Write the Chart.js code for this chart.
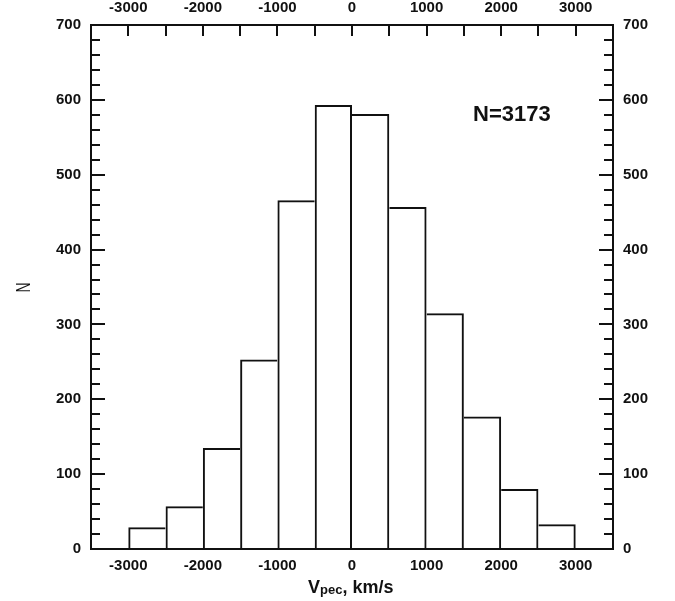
<!DOCTYPE html>
<html>
<head>
<meta charset="utf-8">
<script src="https://cdn.jsdelivr.net/npm/chart.js@4.4.1/dist/chart.umd.min.js"></script>
<style>
  html, body { margin: 0; padding: 0; background: #fff; }
  #wrap { width: 675px; height: 601px; }
</style>
</head>
<body>
<div id="wrap"><canvas id="hist" width="675" height="601"></canvas></div>
<script>
// histogram bins (left edge, km/s) and counts
const binLeft = [-3000, -2500, -2000, -1500, -1000, -500, 0, 500, 1000, 1500, 2000, 2500];
const binWidth = 500;
const counts = [29, 57, 135, 253, 466, 593, 581, 457, 315, 177, 80, 33];

const xLabels = [-3000, -2000, -1000, 0, 1000, 2000, 3000];
const xTickMarks = [-3000, -2500, -2000, -1500, -1000, -500, 0, 500, 1000, 1500, 2000, 2500, 3000];
const yLabels = [0, 100, 200, 300, 400, 500, 600, 700];
const yMinorStep = 20;
const totalText = 'N=3173';

const ink = '#111';
const tickFont = { family: 'Liberation Sans, Arial, sans-serif', size: 15, weight: 'bold' };

const points = binLeft.map((b, i) => ({ x: b + binWidth / 2, y: counts[i] }));
const last = counts.length - 1;

function fixTicks(list) {
  return function (scale) {
    scale.ticks = list.map(v => ({ value: v }));
  };
}
const plain = v => String(v);

// each shared bar edge is drawn once, by the taller of the two bars
function edgeWidths(c) {
  const i = c.dataIndex;
  return {
    top: 2,
    left: (i === 0 || counts[i] >= counts[i - 1]) ? 2 : 0,
    right: (i === last || counts[i] > counts[i + 1]) ? 2 : 0,
    bottom: 0
  };
}

// frame, inward ticks and titles
const framePlugin = {
  id: 'frame',
  afterDraw(chart) {
    const ctx = chart.ctx;
    const a = chart.chartArea;
    const x = chart.scales.x;
    const y = chart.scales.y;
    ctx.save();
    ctx.strokeStyle = ink;
    ctx.lineWidth = 2;
    ctx.strokeRect(a.left, a.top, a.right - a.left, a.bottom - a.top);

    ctx.beginPath();
    // top ticks
    xTickMarks.forEach(v => {
      const px = Math.round(x.getPixelForValue(v));
      ctx.moveTo(px, a.top);
      ctx.lineTo(px, a.top + 11);
    });
    // left / right ticks
    for (let v = 0; v <= 700; v += yMinorStep) {
      const py = Math.round(y.getPixelForValue(v));
      const len = v % 100 === 0 ? 14 : 9;
      ctx.moveTo(a.left, py);
      ctx.lineTo(a.left + len, py);
      ctx.moveTo(a.right, py);
      ctx.lineTo(a.right - len, py);
    }
    ctx.stroke();

    ctx.fillStyle = ink;
    // N=3173
    ctx.font = 'bold 22px "Liberation Sans", Arial, sans-serif';
    ctx.textBaseline = 'alphabetic';
    ctx.textAlign = 'left';
    ctx.fillText(totalText, 473, 121);

    // x title: V_pec, km/s
    let tx = 308;
    ctx.font = 'bold 18px "Liberation Sans", Arial, sans-serif';
    ctx.fillText('V', tx, 593);
    tx += ctx.measureText('V').width;
    ctx.font = 'bold 13px "Liberation Sans", Arial, sans-serif';
    ctx.fillText('pec', tx, 594);
    tx += ctx.measureText('pec').width;
    ctx.font = 'bold 18px "Liberation Sans", Arial, sans-serif';
    ctx.fillText(', km/s', tx, 593);

    // y title
    ctx.translate(22.5, 287.5);
    ctx.rotate(-Math.PI / 2);
    ctx.scale(1, 1.5);
    ctx.font = '14px "Liberation Sans", Arial, sans-serif';
    ctx.textAlign = 'center';
    ctx.fillText('N', 0, 5);
    ctx.restore();
  }
};

const noGrid = { display: false, drawTicks: false };

new Chart(document.getElementById('hist'), {
  type: 'bar',
  data: {
    datasets: [{
      data: points,
      xAxisID: 'x',
      yAxisID: 'y',
      backgroundColor: 'rgba(255,255,255,0)',
      borderColor: ink,
      borderSkipped: 'bottom',
      borderWidth: edgeWidths,
      inflateAmount: 0,
      barPercentage: 1,
      categoryPercentage: 1
    }]
  },
  options: {
    responsive: false,
    devicePixelRatio: 1,
    animation: false,
    layout: { padding: 0 },
    plugins: { legend: { display: false }, tooltip: { enabled: false } },
    scales: {
      x: {
        type: 'linear', position: 'bottom', min: -3500, max: 3500, offset: false,
        grid: noGrid, border: { display: false },
        afterBuildTicks: fixTicks(xLabels),
        afterFit: s => { s.height = 52; },
        ticks: { color: ink, font: tickFont, padding: 8, maxRotation: 0, autoSkip: false, callback: plain }
      },
      x2: {
        type: 'linear', position: 'top', min: -3500, max: 3500, offset: false,
        grid: noGrid, border: { display: false },
        afterBuildTicks: fixTicks(xLabels),
        afterFit: s => { s.height = 25; },
        ticks: { color: ink, font: tickFont, padding: 8, maxRotation: 0, autoSkip: false, callback: plain }
      },
      y: {
        type: 'linear', position: 'left', min: 0, max: 700,
        grid: noGrid, border: { display: false },
        afterBuildTicks: fixTicks(yLabels),
        afterFit: s => { s.width = 91; },
        ticks: { color: ink, font: tickFont, padding: 10, callback: plain }
      },
      y2: {
        type: 'linear', position: 'right', min: 0, max: 700,
        grid: noGrid, border: { display: false },
        afterBuildTicks: fixTicks(yLabels),
        afterFit: s => { s.width = 62; },
        ticks: { color: ink, font: tickFont, padding: 10, callback: plain }
      }
    }
  },
  plugins: [framePlugin]
});
</script>
</body>
</html>
